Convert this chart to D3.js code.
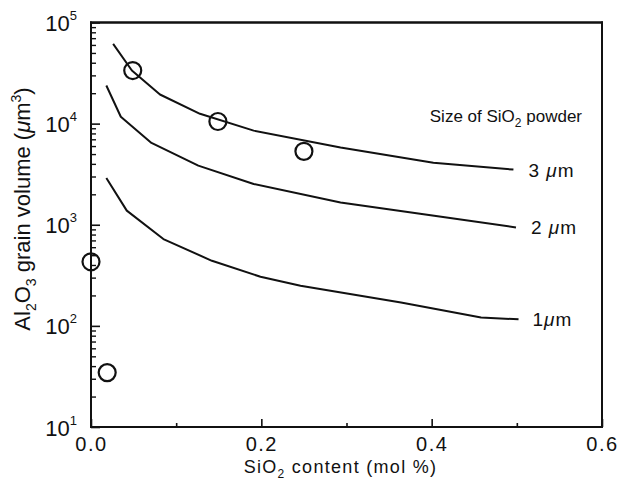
<!DOCTYPE html>
<html>
<head>
<meta charset="utf-8">
<script src="https://cdn.jsdelivr.net/npm/d3@7"></script>
<style>
  body { margin: 0; background: #fff; }
  text { font-family: "Liberation Sans", Arial, Helvetica, sans-serif; fill: #111; }
</style>
</head>
<body>
<svg id="chart" width="621" height="482"></svg>
<script>
// ---- data ----
const xTicks = [0.0, 0.2, 0.4, 0.6];
const xTickLabels = ["0.0", "0.2", "0.4", "0.6"];
const xMinorTicks = [0.1, 0.3, 0.5];
const yExponents = [1, 2, 3, 4, 5];

const series3x = [0.026, 0.048, 0.081, 0.128, 0.191, 0.293, 0.402, 0.496];
const series3y = [61500, 33500, 19400, 12500, 8530, 5820, 4110, 3510];
const series2x = [0.018, 0.035, 0.071, 0.126, 0.191, 0.293, 0.403, 0.499];
const series2y = [23800, 11700, 6440, 3840, 2530, 1660, 1230, 940];
const series1x = [0.018, 0.042, 0.085, 0.142, 0.199, 0.246, 0.364, 0.458, 0.502];
const series1y = [2900, 1380, 722, 440, 306, 249, 170, 121, 116];
const seriesLabels = ["3 \u03bcm", "2 \u03bcm", "1\u03bcm"];

const pointsX = [0.0, 0.019, 0.049, 0.149, 0.250];
const pointsY = [430, 34.5, 33500, 10500, 5320];

// ---- layout ----
const svg = d3.select("#chart");
const mLeft = 91, mRight = 602, mTop = 22.5, mBottom = 427;
const x = d3.scaleLinear().domain([0, 0.6]).range([mLeft, mRight]);
const y = d3.scaleLog().domain([10, 1e5]).range([mBottom, mTop]);

// minor log ticks
const yMinor = [];
yExponents.slice(0, -1).forEach(e => {
  for (let k = 2; k <= 9; k++) yMinor.push(k * Math.pow(10, e));
});

// x axis (ticks inward)
const xAxisMajor = d3.axisBottom(x).tickValues(xTicks)
  .tickFormat((d, i) => xTickLabels[i]).tickSizeInner(-8).tickSizeOuter(0).tickPadding(10);
const gx = svg.append("g").attr("transform", `translate(0,${mBottom})`).call(xAxisMajor);
gx.select(".domain").remove();
gx.selectAll(".tick line").attr("stroke", "#111").attr("stroke-width", 1.6);
gx.selectAll("text").attr("font-size", 20).attr("letter-spacing", 1.5).attr("fill", "#111");

const xAxisMinor = d3.axisBottom(x).tickValues(xMinorTicks).tickFormat("")
  .tickSizeInner(-4).tickSizeOuter(0);
const gxm = svg.append("g").attr("transform", `translate(0,${mBottom})`).call(xAxisMinor);
gxm.select(".domain").remove();
gxm.selectAll(".tick line").attr("stroke", "#111").attr("stroke-width", 1.6);

// y axis
const yAxisMajor = d3.axisLeft(y).tickValues(yExponents.map(e => Math.pow(10, e)))
  .tickFormat("").tickSizeInner(-9).tickSizeOuter(0);
const gy = svg.append("g").attr("transform", `translate(${mLeft},0)`).call(yAxisMajor);
gy.select(".domain").remove();
gy.selectAll(".tick line").attr("stroke", "#111").attr("stroke-width", 1.6);
gy.selectAll(".tick").each(function(d, i) {
  const t = d3.select(this).append("text")
    .attr("x", -14).attr("y", 8).attr("text-anchor", "end")
    .attr("font-size", 22).attr("fill", "#111");
  t.append("tspan").text("10");
  t.append("tspan").attr("dy", -11).attr("font-size", 13).text(String(yExponents[i]));
});

const yAxisMinor = d3.axisLeft(y).tickValues(yMinor).tickFormat("")
  .tickSizeInner(-5).tickSizeOuter(0);
const gym = svg.append("g").attr("transform", `translate(${mLeft},0)`).call(yAxisMinor);
gym.select(".domain").remove();
gym.selectAll(".tick line").attr("stroke", "#111").attr("stroke-width", 1.4);

// curves
const lineGen = d3.line().x(d => x(d[0])).y(d => y(d[1]));
const curves = [
  d3.zip(series3x, series3y),
  d3.zip(series2x, series2y),
  d3.zip(series1x, series1y)
];
svg.append("g").selectAll("path").data(curves).join("path")
  .attr("d", lineGen).attr("fill", "none").attr("stroke", "#111")
  .attr("stroke-width", 2).attr("stroke-linejoin", "round");

// curve labels
const lastPts = curves.map(c => c[c.length - 1]);
svg.append("g").selectAll("text").data(lastPts).join("text")
  .attr("x", (d, i) => x(d[0]) + (i === 2 ? 14 : 15))
  .attr("y", d => y(d[1]) + 7)
  .attr("font-size", 19).attr("letter-spacing", 1)
  .each(function(d, i) {
    const t = d3.select(this);
    const s = seriesLabels[i];
    const idx = s.indexOf("\u03bc");
    t.append("tspan").text(s.slice(0, idx));
    t.append("tspan").attr("font-style", "italic").text("\u03bc");
    t.append("tspan").text(s.slice(idx + 1));
  });

// legend title
const lt = svg.append("text").attr("x", 582).attr("y", 122)
  .attr("text-anchor", "end").attr("font-size", 17);
lt.append("tspan").text("Size of SiO");
lt.append("tspan").attr("font-size", 12).attr("dy", 5).text("2");
lt.append("tspan").attr("dy", -5).text(" powder");

// data points
svg.append("g").selectAll("circle").data(d3.zip(pointsX, pointsY)).join("circle")
  .attr("cx", d => x(d[0])).attr("cy", d => y(d[1])).attr("r", 8.5)
  .attr("fill", "none").attr("stroke", "#111").attr("stroke-width", 2.2);

// axis titles
const xt = svg.append("text").attr("x", (mLeft + mRight) / 2 - 6).attr("y", 473)
  .attr("text-anchor", "middle").attr("font-size", 18).attr("letter-spacing", 1.3);
xt.append("tspan").text("SiO");
xt.append("tspan").attr("font-size", 12).attr("dy", 5).text("2");
xt.append("tspan").attr("dy", -5).text(" content (mol %)");

const yt = svg.append("text")
  .attr("transform", `translate(30,${209}) rotate(-90)`)
  .attr("text-anchor", "middle").attr("font-size", 22);
yt.append("tspan").text("Al");
yt.append("tspan").attr("font-size", 14).attr("dy", 6).text("2");
yt.append("tspan").attr("dy", -6).text("O");
yt.append("tspan").attr("font-size", 14).attr("dy", 6).text("3");
yt.append("tspan").attr("dy", -6).text(" grain volume (");
yt.append("tspan").attr("font-style", "italic").text("\u03bc");
yt.append("tspan").text("m");
yt.append("tspan").attr("font-size", 14).attr("dy", -9).text("3");
yt.append("tspan").attr("dy", 9).text(")");

// frame: stroked rectangle plus filled edge bars, drawn last
svg.append("rect").attr("x", mLeft).attr("y", mTop)
  .attr("width", mRight - mLeft).attr("height", mBottom - mTop)
  .attr("fill", "none").attr("stroke", "#111").attr("stroke-width", 2);
const fw = 2;
const edges = [
  [mLeft - fw / 2, mTop - fw / 2, mRight - mLeft + fw, fw],
  [mLeft - fw / 2, mBottom - fw / 2, mRight - mLeft + fw, fw],
  [mLeft - fw / 2, mTop - fw / 2, fw, mBottom - mTop + fw],
  [mRight - fw / 2, mTop - fw / 2, fw, mBottom - mTop + fw]
];
svg.append("g").selectAll("rect").data(edges).join("rect")
  .attr("x", d => d[0]).attr("y", d => d[1])
  .attr("width", d => d[2]).attr("height", d => d[3])
  .attr("fill", "#111");
</script>
</body>
</html>
